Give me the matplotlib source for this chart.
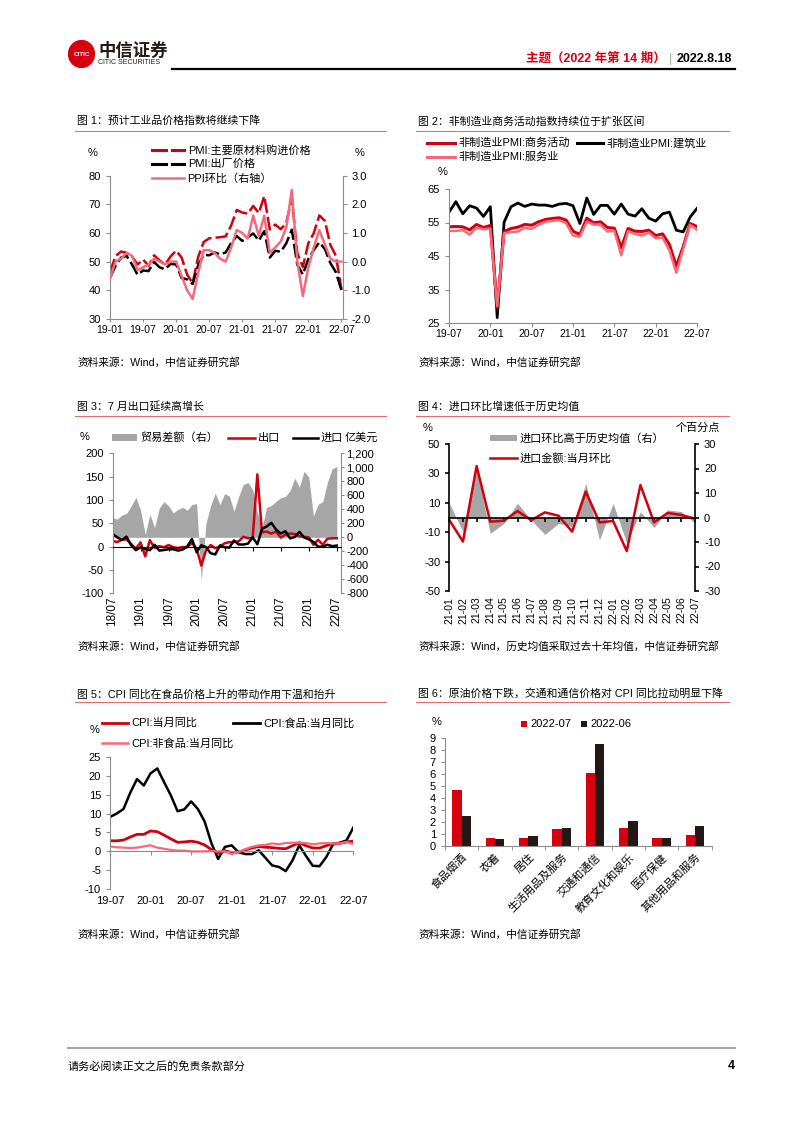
import matplotlib
matplotlib.use('Agg')
import matplotlib.pyplot as plt
from matplotlib.lines import Line2D
from matplotlib.patches import Rectangle, Circle
import numpy as np

plt.rcParams['font.family'] = ['Liberation Sans', 'Noto Sans CJK SC']
plt.rcParams['axes.unicode_minus'] = False

RED = '#D0000F'
PINK = '#F26B7A'
GRAY = '#A6A6A6'
AXC = '#8C8C8C'

# ---- 图1 data: 19-01 .. 22-07
c1_ticks = ['19-01', '19-07', '20-01', '20-07', '21-01', '21-07', '22-01', '22-07']
pmi_input = [46.3, 51.9, 53.5, 53.1, 51.8, 49.0, 50.7, 48.6, 52.2, 50.4, 49.0, 51.8,
             53.8, 51.4, 45.5, 42.5, 51.6, 56.8, 58.1, 58.3, 58.5, 58.8, 62.6, 68.0,
             67.1, 66.7, 69.4, 66.9, 72.8, 61.2, 62.9, 61.3, 63.5, 72.1, 52.9, 48.1,
             56.4, 60.0, 66.1, 64.2, 55.8, 52.0, 40.4]
pmi_output = [44.4, 48.5, 51.4, 52.0, 49.0, 45.4, 46.9, 46.7, 49.9, 48.0, 47.3, 49.2,
              49.0, 44.3, 43.8, 42.2, 48.7, 52.4, 52.2, 53.2, 52.5, 53.2, 56.5, 58.9,
              57.2, 58.5, 59.8, 57.3, 60.6, 51.4, 53.8, 53.4, 56.4, 61.1, 48.9, 45.5,
              50.9, 54.1, 56.7, 54.4, 49.5, 46.3, 40.1]
ppi_mom = [-0.6, 0.0, 0.1, 0.3, 0.2, -0.3, -0.2, -0.1, 0.1, 0.0, -0.1, 0.0,
           0.0, -0.5, -1.0, -1.3, -0.4, 0.4, 0.4, 0.3, 0.1, 0.0, 0.5, 1.1,
           1.0, 0.8, 1.6, 0.9, 1.6, 0.3, 0.5, 0.7, 1.2, 2.5, 0.0, -1.2,
           -0.2, 0.5, 1.1, 0.6, 0.1, 0.0, 0.0]

# ---- 图2 data: 19-07 .. 22-07
c2_ticks = ['19-07', '20-01', '20-07', '21-01', '21-07', '22-01', '22-07']
nm_business = [53.7, 53.8, 53.7, 52.8, 54.4, 53.5,
               54.1, 29.6, 52.3, 53.2, 53.6, 54.4, 54.2, 55.2, 55.9, 56.2, 56.4, 55.7,
               52.4, 51.4, 56.3, 54.9, 55.2, 53.5, 53.3, 47.5, 53.2, 52.4, 52.3, 52.7,
               51.1, 51.6, 48.4, 41.9, 47.8, 54.7, 53.8]
nm_construct = [58.1, 61.2, 57.6, 60.0, 59.3, 56.8,
                59.7, 26.6, 55.1, 59.7, 60.8, 59.8, 60.5, 60.2, 60.2, 59.8, 60.5, 60.7,
                60.0, 54.7, 62.3, 57.4, 60.1, 60.1, 57.5, 60.5, 57.5, 56.9, 59.1, 56.3,
                55.4, 57.6, 58.1, 52.7, 52.2, 56.6, 59.2]
nm_service = [52.5, 52.5, 52.7, 51.4, 53.5, 53.0,
              53.1, 30.1, 51.8, 52.1, 52.3, 53.4, 53.1, 54.3, 55.2, 55.5, 55.7, 54.8,
              51.1, 50.8, 55.2, 54.4, 54.3, 52.3, 52.5, 45.2, 52.4, 51.6, 51.1, 52.0,
              50.3, 50.5, 46.7, 40.0, 47.1, 54.3, 52.8]

# ---- 图3 data: 18/07 .. 22/07
c3_ticks = ['18/07', '19/01', '19/07', '20/01', '20/07', '21/01', '21/07', '22/01', '22/07']
trade_bal = [281, 260, 316, 340, 447, 570,
             391, 41, 326, 138, 417, 510, 450, 348, 397, 428, 387, 469,
             480, -620, 199, 453, 630, 465, 623, 589, 370, 584, 754, 782,
             680, 360, 138, 428, 455, 515, 565, 583, 667, 845, 717, 944,
             860, 300, 473, 511, 788, 979, 1012]
export_yoy = [12.2, 9.8, 14.5, 15.6, 5.4, -4.4,
              9.1, -20.8, 13.8, -2.7, 1.1, -1.3, 3.3, -1.0, -3.2, -0.9, -1.1, 7.6,
              -4.0, -40.6, -8.0, 3.5, -3.3, 0.5, 7.2, 9.5, 9.9, 11.4, 21.1, 18.1,
              18.0, 154.9, 30.6, 32.3, 27.9, 32.2, 19.3, 25.6, 28.1, 27.1, 22.0, 20.9,
              20.0, 4.0, 14.7, 3.9, 16.9, 17.9, 18.0]
import_yoy = [27.3, 20.0, 14.3, 21.4, 3.0, -7.6,
              -1.5, -5.2, -7.6, 4.0, -8.5, -7.3, -5.6, -5.6, -8.5, -6.4, 0.3, 16.3,
              -12.0, 3.0, -0.9, -14.2, -16.7, 2.7, -1.4, -2.1, 13.2, 4.7, 4.5, 6.5,
              20.0, 5.0, 38.1, 43.1, 51.1, 36.7, 28.1, 33.1, 17.6, 20.6, 31.7, 19.5,
              15.9, 10.0, -0.1, 0.0, 4.1, 1.0, 2.3]

# ---- 图4 data: 21-01 .. 22-07
c4_ticks = ['21-01', '21-02', '21-03', '21-04', '21-05', '21-06', '21-07', '21-08', '21-09', '21-10',
            '21-11', '21-12', '22-01', '22-02', '22-03', '22-04', '22-05', '22-06', '22-07']
import_mom = [-1.7, -16.4, 35.0, -2.8, -2.2, 4.4, -1.9, 3.5, 1.2, -9.6,
              17.6, -3.3, -2.4, -22.8, 22.1, -3.3, 3.1, 1.7, -0.8]
above_hist = [5.8, -5.8, 19.4, -6.5, -2.4, 5.8, -1.0, -6.9, -2.4, -3.7,
              14.0, -9.2, 5.8, -10.5, 2.4, -4.1, 3.1, 2.4, -2.4]

# ---- 图5 data: 19-07 .. 22-07
c5_ticks = ['19-07', '20-01', '20-07', '21-01', '21-07', '22-01', '22-07']
cpi_all = [2.8, 2.8, 3.0, 3.8, 4.5, 4.5,
           5.4, 5.2, 4.3, 3.3, 2.4, 2.5, 2.7, 2.4, 1.7, 0.5, -0.5, 0.2,
           -0.3, -0.2, 0.4, 0.9, 1.3, 1.1, 1.0, 0.8, 0.7, 1.5, 2.3, 1.5,
           0.9, 0.9, 1.5, 2.1, 2.1, 2.5, 2.7]
cpi_food = [9.1, 10.0, 11.2, 15.5, 19.1, 17.4,
            20.6, 21.9, 18.3, 14.8, 10.6, 11.1, 13.2, 11.2, 7.9, 2.2, -2.0, 1.2,
            1.6, -0.2, -0.7, -0.7, 0.3, -1.7, -3.7, -4.1, -5.2, -2.4, 1.6, -1.2,
            -3.8, -3.9, -1.5, 1.9, 2.3, 2.9, 6.3]
cpi_nonfood = [1.3, 1.1, 1.0, 0.9, 1.0, 1.3,
               1.6, 1.0, 0.7, 0.4, 0.2, 0.2, 0.0, 0.0, 0.0, 0.1, 0.0, -0.0,
               -0.7, -0.2, 0.6, 1.2, 1.6, 1.7, 2.1, 1.9, 2.2, 2.3, 2.3, 2.2,
               1.9, 2.1, 2.2, 2.1, 2.1, 2.5, 1.9]

# ---- 图6 data
c6_cats = ['食品烟酒', '衣着', '居住', '生活用品及服务', '交通和通信', '教育文化和娱乐', '医疗保健', '其他用品和服务']
cpi_2207 = [4.7, 0.7, 0.7, 1.4, 6.1, 1.5, 0.7, 0.9]
cpi_2206 = [2.5, 0.6, 0.8, 1.5, 8.5, 2.1, 0.7, 1.7]

W, H = 802, 1133
fig = plt.figure(figsize=(W / 100, H / 100), dpi=100)


def add_ax(l, t, r, b):
    return fig.add_axes([l / W, 1 - b / H, (r - l) / W, (b - t) / H])


def txt(x, y, s, **kw):
    kw.setdefault('va', 'center')
    kw.setdefault('fontsize', 8)
    return fig.text(x / W, 1 - y / H, s, **kw)


def hline(x0, x1, y, **kw):
    fig.add_artist(Line2D([x0 / W, x1 / W], [1 - y / H, 1 - y / H], transform=fig.transFigure, **kw))


def leg_line(x0, x1, y, label, **kw):
    hline(x0, x1, y, **kw)
    txt(x1 + 3, y, label, fontsize=8)


def leg_patch(x0, x1, y, h, color, label):
    fig.add_artist(Rectangle((x0 / W, 1 - (y + h / 2) / H), (x1 - x0) / W, h / H,
                             transform=fig.transFigure, color=color, lw=0))
    txt(x1 + 3, y, label, fontsize=8)


def style(ax, color=AXC, lw=0.8):
    for s in ['top', 'right']:
        ax.spines[s].set_visible(False)
    for s in ['left', 'bottom']:
        ax.spines[s].set_color(color)
        ax.spines[s].set_linewidth(lw)
    ax.tick_params(colors=color, labelcolor='black', labelsize=8, length=3, width=lw)


def style_right(axr, color=AXC, lw=0.8):
    for s in ['top', 'left', 'bottom']:
        axr.spines[s].set_visible(False)
    axr.spines['right'].set_color(color)
    axr.spines['right'].set_linewidth(lw)
    axr.tick_params(colors=color, labelcolor='black', labelsize=8, length=3, width=lw)


# ---------------- header ----------------
lax = add_ax(68, 40, 95, 68)
lax.set_xlim(0, 1)
lax.set_ylim(0, 1)
lax.axis('off')
lax.add_patch(Circle((0.5, 0.5), 0.48, color='#D7000F'))
lax.text(0.5, 0.5, 'CITIC', color='white', fontsize=4.5, weight='bold', ha='center', va='center')
txt(98, 50, '中信证券', fontsize=12.5, weight='bold', color='#231815')
txt(98, 63, 'CITIC SECURITIES', fontsize=5, color='#231815')
txt(666, 59, '主题（2022 年第 14 期）', fontsize=9, weight='bold', color='#D7000F', ha='right')
txt(671, 59, '|', fontsize=9, color='#A0A0A0', ha='center')
txt(677, 59, '2022.8.18', fontsize=9, weight='bold', color='black')
hline(172, 735, 69, color='black', lw=1.6)

# titles and separators
titles = [(77, 121, '图 1：预计工业品价格指数将继续下降'),
          (418, 121, '图 2：非制造业商务活动指数持续位于扩张区间'),
          (77, 407, '图 3：7 月出口延续高增长'),
          (418, 407, '图 4：进口环比增速低于历史均值'),
          (77, 694, '图 5：CPI 同比在食品价格上升的带动作用下温和抬升'),
          (418, 694, '图 6：原油价格下跌，交通和通信价格对 CPI 同比拉动明显下降')]
for x, y, s in titles:
    txt(x, y, s, fontsize=7.8)
for y in [130.5, 416, 702]:
    hline(75, 386, y, color='#E07070', lw=0.8)
    hline(416, 729, y, color='#E07070', lw=0.8)
sources = [(77, 362, '资料来源：Wind，中信证券研究部'),
           (418, 362, '资料来源：Wind，中信证券研究部'),
           (77, 646, '资料来源：Wind，中信证券研究部'),
           (418, 646, '资料来源：Wind，历史均值采取过去十年均值，中信证券研究部'),
           (77, 934, '资料来源：Wind，中信证券研究部'),
           (418, 934, '资料来源：Wind，中信证券研究部')]
for x, y, s in sources:
    txt(x, y, s, fontsize=7.7)

# ---------------- 图1 ----------------
ax1 = add_ax(110, 175.5, 342.5, 319)
x1 = np.arange(len(pmi_input))
dash = (0, (5.6, 1.6))
ax1.plot(x1, pmi_input, color=RED, lw=1.8, ls=dash)
ax1.plot(x1, pmi_output, color='black', lw=1.8, ls=dash)
ax1.set_xlim(0, 42.2)
ax1.set_ylim(30, 80)
ax1.set_yticks(range(30, 81, 10))
ax1.set_xticks(range(0, 43, 6))
ax1.set_xticklabels(c1_ticks)
style(ax1)
ax1.tick_params(axis='x', labelsize=7.5, length=2.5, pad=1.5)
ax1r = ax1.twinx()
ax1r.plot(x1, ppi_mom, color=PINK, lw=1.8)
ax1r.set_ylim(-2, 3)
ax1r.set_yticks(range(-2, 4))
ax1r.set_yticklabels(['%.1f' % v for v in range(-2, 4)])
style_right(ax1r)
txt(93, 153, '%', ha='center', fontsize=8)
txt(360, 153, '%', ha='center', fontsize=8)
hline(152, 166, 150, color=RED, lw=2.2)
hline(172, 184, 150, color=RED, lw=2.2)
txt(188, 150, 'PMI:主要原材料购进价格', fontsize=8)
hline(152, 166, 164, color='black', lw=2.2)
hline(172, 184, 164, color='black', lw=2.2)
txt(188, 164, 'PMI:出厂价格', fontsize=8)
leg_line(152, 184, 178, 'PPI环比（右轴）', color=PINK, lw=1.8)

# ---------------- 图2 ----------------
ax2 = add_ax(449, 189, 697, 323)
x2 = np.arange(len(nm_business))
ax2.plot(x2, nm_construct, color='black', lw=2)
ax2.plot(x2, nm_business, color=RED, lw=2.2)
ax2.plot(x2, nm_service, color=PINK, lw=1.8)
ax2.set_xlim(0, 36)
ax2.set_ylim(25, 65)
ax2.set_yticks(range(25, 66, 10))
ax2.set_xticks(range(0, 37, 6))
ax2.set_xticklabels(c2_ticks)
style(ax2)
ax2.tick_params(axis='x', labelsize=7.5, length=3, pad=1.5)
txt(443, 172, '%', ha='center', fontsize=8)
leg_line(427, 455, 143, '非制造业PMI:商务活动', color=RED, lw=2.2)
leg_line(577, 603, 143, '非制造业PMI:建筑业', color='black', lw=2.2)
leg_line(427, 455, 157, '非制造业PMI:服务业', color=PINK, lw=2.2)

# ---------------- 图3 ----------------
ax3 = add_ax(112.5, 453.3, 341, 593.3)
ax3r = ax3.twinx()
x3 = np.arange(len(trade_bal))
ax3r.fill_between(x3, 0, trade_bal, color=GRAY, lw=0)
ax3.set_zorder(ax3r.get_zorder() + 1)
ax3.patch.set_visible(False)
ax3.plot(x3, export_yoy, color=RED, lw=1.8)
ax3.plot(x3, import_yoy, color='black', lw=1.8)
ax3.set_xlim(0, 48.9)
ax3.set_ylim(-100, 200)
style(ax3)
ax3.spines['bottom'].set_position(('data', 0))
ax3.spines['bottom'].set_color('black')
ax3.set_yticks(range(-100, 201, 50))
ax3.set_xticks(range(0, 49, 6))
ax3.set_xticklabels(c3_ticks)
ax3.tick_params(axis='x', colors='black', labelsize=8.5, length=3, pad=33, labelrotation=90)
ax3.tick_params(axis='y', colors=AXC, labelcolor='black', labelsize=8, length=3)
ax3r.set_ylim(-800, 1200)
ax3r.set_yticks(range(-800, 1201, 200))
ax3r.set_yticklabels(['{:,}'.format(v) for v in range(-800, 1201, 200)])
style_right(ax3r)
ax3r.tick_params(length=2.5, pad=1.5)
txt(85, 437, '%', ha='center', fontsize=8)
leg_patch(112, 137, 437.5, 6, GRAY, '贸易差额（右）')
leg_line(228, 255, 437.5, '出口', color=RED, lw=1.8)
leg_line(293, 318, 437.5, '进口', color='black', lw=1.8)
txt(345, 437.5, '亿美元', fontsize=8)

# ---------------- 图4 ----------------
ax4 = add_ax(449.3, 444, 695, 591)
ax4r = ax4.twinx()
x4 = np.arange(len(import_mom))
ax4r.fill_between(x4, 0, above_hist, color=GRAY, lw=0)
ax4.set_zorder(ax4r.get_zorder() + 1)
ax4.patch.set_visible(False)
ax4.plot(x4, import_mom, color=RED, lw=1.8)
ax4.set_xlim(0, 18)
ax4.set_ylim(-50, 50)
style(ax4, color='black', lw=1.2)
ax4.spines['bottom'].set_position(('data', 0))
ax4.set_yticks(range(-50, 51, 20))
ax4.set_xticks(x4)
ax4.set_xticklabels(c4_ticks)
ax4.tick_params(axis='x', colors='black', labelsize=7.5, length=3, width=1.2, pad=54, labelrotation=90)
ax4.tick_params(axis='y', colors='black', labelsize=8, length=3, width=1.2)
ax4r.set_ylim(-30, 30)
ax4r.set_yticks(range(-30, 31, 10))
style_right(ax4r, color='black', lw=1.2)
txt(428, 428, '%', ha='center', fontsize=8)
txt(720, 428, '个百分点', ha='right', fontsize=8)
leg_patch(490, 517, 438, 6, GRAY, '进口环比高于历史均值（右）')
leg_line(490, 517, 458, '进口金额:当月环比', color=RED, lw=1.8)

# ---------------- 图5 ----------------
ax5 = add_ax(110, 756.7, 353.3, 889.3)
x5 = np.arange(len(cpi_all))
ax5.plot(x5, cpi_food, color='black', lw=1.8)
ax5.plot(x5, cpi_all, color=RED, lw=2)
ax5.plot(x5, cpi_nonfood, color=PINK, lw=1.6)
ax5.set_xlim(0, 36)
ax5.set_ylim(-10, 25)
style(ax5)
ax5.spines['bottom'].set_position(('data', 0))
ax5.set_yticks(range(-10, 26, 5))
ax5.set_xticks(range(0, 37, 6))
ax5.set_xticklabels(c5_ticks)
ax5.tick_params(axis='x', colors=AXC, labelcolor='black', labelsize=8, length=3, pad=29)
ax5.tick_params(axis='y', colors=AXC, labelcolor='black', labelsize=8, length=3)
txt(95, 730, '%', ha='center', fontsize=8)
leg_line(102, 128, 723, 'CPI:当月同比', color=RED, lw=2)
leg_line(233, 260, 723, 'CPI:食品:当月同比', color='black', lw=2)
leg_line(102, 128, 743, 'CPI:非食品:当月同比', color=PINK, lw=1.8)

# ---------------- 图6 ----------------
ax6 = add_ax(445, 738.3, 711.7, 846)
x6 = np.arange(len(c6_cats))
ax6.bar(x6 - 0.14, cpi_2207, width=0.28, color='#D7000F')
ax6.bar(x6 + 0.14, cpi_2206, width=0.28, color='#231815')
ax6.set_xlim(-0.5, 7.5)
ax6.set_ylim(0, 9)
ax6.set_yticks(range(0, 10))
ax6.set_xticks(x6)
ax6.set_xticklabels(c6_cats, rotation=45, ha='right', va='top', rotation_mode='anchor')
ax6.set_xticks(np.arange(-0.5, 8, 1), minor=True)
style(ax6)
ax6.tick_params(axis='x', which='major', length=0, pad=4, labelsize=8)
ax6.tick_params(axis='x', which='minor', length=3, color=AXC)
txt(437, 722, '%', ha='center', fontsize=8)
leg_patch(521, 527, 724, 6, '#D7000F', '2022-07')
leg_patch(581, 587, 724, 6, '#231815', '2022-06')

# ---------------- footer ----------------
hline(68, 735, 1048, color='#A6A6A6', lw=1.5)
txt(68, 1066, '请务必阅读正文之后的免责条款部分', fontsize=8)
txt(735, 1066, '4', ha='right', fontsize=9, weight='bold')

fig.savefig('out.png', dpi=100)
